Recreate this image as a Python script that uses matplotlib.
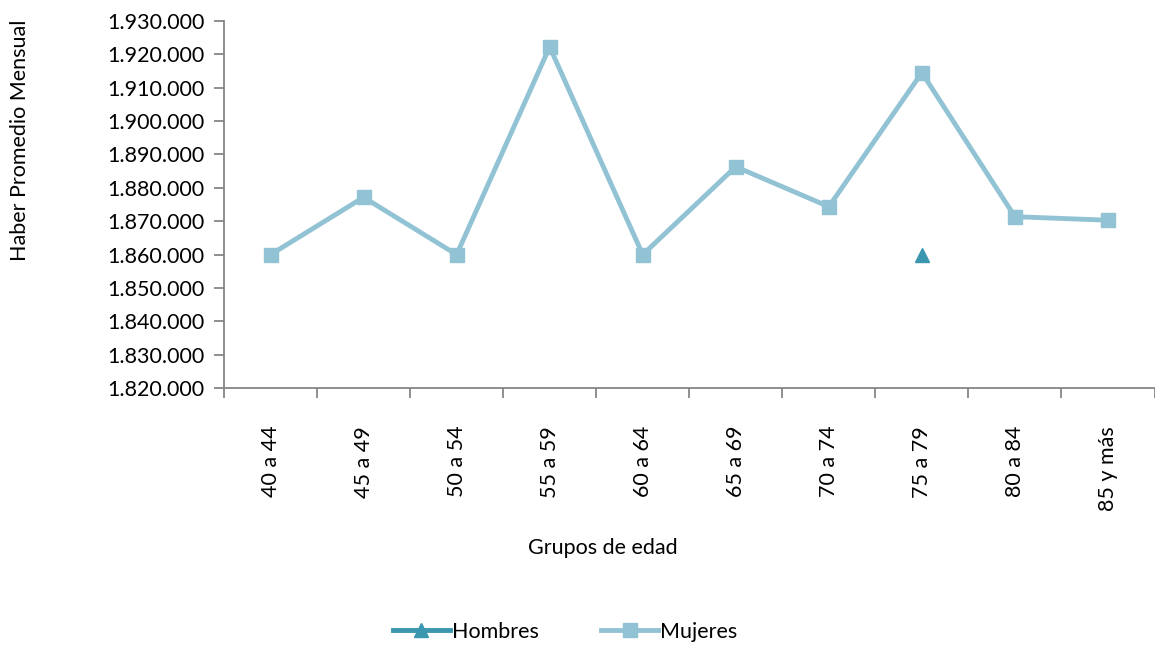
import matplotlib
matplotlib.use("Agg")
import matplotlib.pyplot as plt
from matplotlib.ticker import FuncFormatter, FixedLocator

grupos = ["40 a 44", "45 a 49", "50 a 54", "55 a 59", "60 a 64",
          "65 a 69", "70 a 74", "75 a 79", "80 a 84", "85 y más"]
mujeres = [1860000, 1877150, 1860000, 1922150, 1860000,
           1886300, 1874350, 1914450, 1871350, 1870300]
hombres = [None, None, None, None, None, None, None, 1860000, None, None]

y_ticks = list(range(1820000, 1930001, 10000))

col_h = "#3A97AF"
col_m = "#92C3D5"
axis_col = "#868686"
FONT = "Lato"
FS = 15.5

fig = plt.figure(figsize=(11.55, 6.46), dpi=100)
ax = fig.add_axes([224 / 1155, 1 - 388.3 / 646, (1155 - 224.5) / 1155, (388.3 - 20.7) / 646])

x = list(range(len(grupos)))
hx = [i for i, v in zip(x, hombres) if v is not None]
hy = [v for v in hombres if v is not None]

ax.plot(hx, hy, color=col_h, lw=3.5, marker="^", ms=10, label="Hombres", clip_on=False)
ax.plot(x, mujeres, color=col_m, lw=3.5, marker="s", ms=10, label="Mujeres", clip_on=False)

ax.set_xlim(-0.5, len(grupos) - 0.5)
ax.set_ylim(y_ticks[0], y_ticks[-1])
ax.set_yticks(y_ticks)
ax.yaxis.set_major_formatter(FuncFormatter(lambda v, p: f"{int(v):,}".replace(",", ".")))

ax.set_xticks(x)
ax.set_xticklabels(grupos, rotation=90, va="top", ha="center")
ax.xaxis.set_minor_locator(FixedLocator([i - 0.5 for i in range(len(grupos) + 1)]))
ax.tick_params(axis="x", which="major", length=0, pad=27)
ax.tick_params(axis="x", which="minor", length=7, width=1.3, color=axis_col)
ax.tick_params(axis="y", length=7, width=1.3, color=axis_col, pad=7)

for lab in ax.get_xticklabels() + ax.get_yticklabels():
    lab.set_fontfamily(FONT)
    lab.set_fontsize(FS)
    lab.set_color("#000000")

for s in ("top", "right"):
    ax.spines[s].set_visible(False)
for s in ("left", "bottom"):
    ax.spines[s].set_color(axis_col)
    ax.spines[s].set_linewidth(1.3)

fig.text(20 / 1155, 1 - 140 / 646, "Haber Promedio Mensual", rotation=90,
         ha="center", va="center", fontsize=FS, family=FONT)
fig.text(603 / 1155, 1 - 548 / 646, "Grupos de edad", ha="center", va="center",
         fontsize=FS, family=FONT)

leg = fig.legend(loc="center", bbox_to_anchor=(565 / 1155, 1 - 632 / 646), ncol=2,
                 frameon=False, handlelength=2.65, columnspacing=2.9, handletextpad=0.1,
                 prop={"family": FONT, "size": FS})

fig.savefig("out.png", dpi=100)
